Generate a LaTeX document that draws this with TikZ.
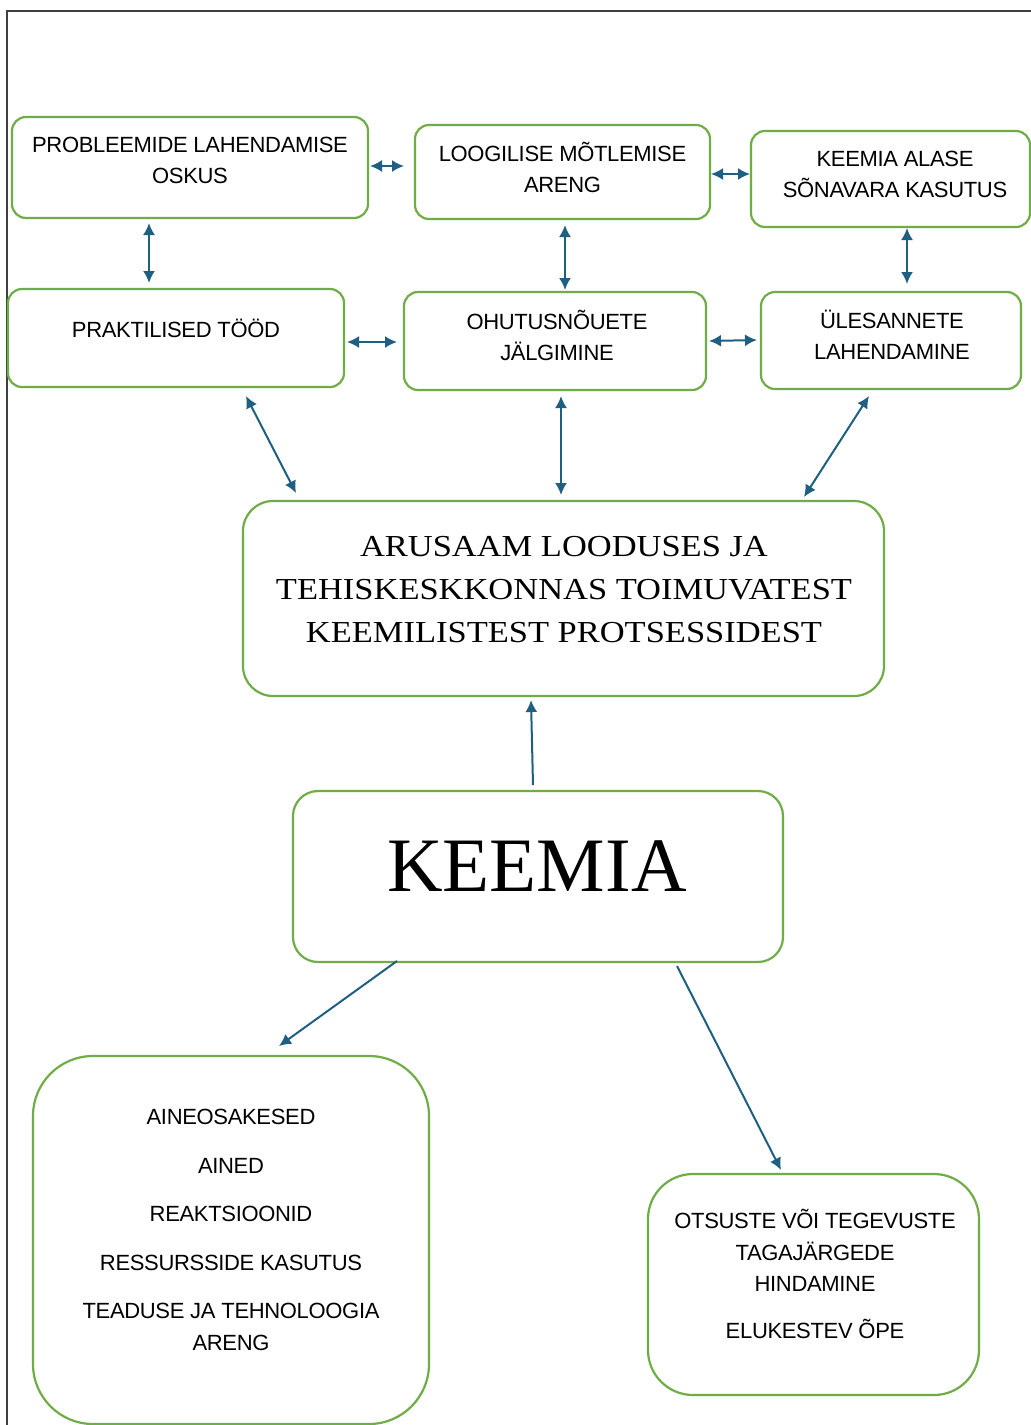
\documentclass[tikz,border=0pt]{standalone}
\usepackage{fontspec}
\setmainfont[LetterSpace=-1.5]{Liberation Sans}
\newfontfamily\serifx{Liberation Serif}
\newfontfamily\serifwide[FakeStretch=1.13]{Liberation Serif}
\usetikzlibrary{arrows.meta,calc}
\definecolor{boxgreen}{HTML}{70AD47}
\definecolor{arrblue}{HTML}{1F5F82}
\definecolor{framegray}{HTML}{404040}
\tikzset{
  box/.style={draw=boxgreen, line width=2.2pt, rounded corners=14pt, inner sep=0pt, outer sep=0pt},
  txt/.style={font=\fontsize{22}{31}\selectfont, align=center, inner sep=0pt},
  dbl/.style={{Latex[length=12pt,width=12pt]}-{Latex[length=12pt,width=12pt]}, draw=arrblue, line width=2pt},
  sgl/.style={-{Latex[length=12pt,width=12pt]}, draw=arrblue, line width=2pt}
}
\begin{document}
\begin{tikzpicture}[x=1pt,y=-1pt]
\useasboundingbox (0,0) rectangle (1031,1425);
\fill[white] (0,0) rectangle (1031,1425);
\draw[framegray, line width=2pt] (1031,11) -- (7,11) -- (7,1425);

% boxes
\node[box, minimum width=356pt, minimum height=101pt] (b1) at (190,167.5) {};
\node[box, minimum width=295pt, minimum height=94pt] (b2) at (562.5,172) {};
\node[box, minimum width=279pt, minimum height=96pt] (b3) at (890.5,179) {};
\node[box, minimum width=336pt, minimum height=98pt] (b4) at (176,338) {};
\node[box, minimum width=302pt, minimum height=98pt] (b5) at (555,341) {};
\node[box, minimum width=260pt, minimum height=97pt] (b6) at (891,340.5) {};
\node[box, rounded corners=30pt, minimum width=641pt, minimum height=195pt] (b7) at (563.5,598.5) {};
\node[box, rounded corners=25pt, minimum width=490pt, minimum height=171pt] (b8) at (538,876.5) {};
\node[box, rounded corners=60pt, minimum width=396pt, minimum height=368pt] (b9) at (231,1240) {};
\node[box, rounded corners=45pt, minimum width=331pt, minimum height=221pt] (b10) at (813.5,1284.5) {};

% texts
\node[txt] (t1) at (190,160.5) {PROBLEEMIDE LAHENDAMISE\\OSKUS};
\node[txt] (t2) at (562.5,167.5) {LOOGILISE MÕTLEMISE\\ARENG};
\node[txt] (t3) at (895,174.5) {KEEMIA ALASE\\SÕNAVARA KASUTUS};
\node[txt] (t4) at (176,328) {PRAKTILISED TÖÖD};
\node[txt] (t5) at (557,335) {OHUTUSNÕUETE\\JÄLGIMINE};
\node[txt] (t6) at (892,335) {ÜLESANNETE\\LAHENDAMINE};
\node[align=center, inner sep=0pt, font=\serifwide\fontsize{30.5}{43}\selectfont] (t7) at (564,590)
  {ARUSAAM LOODUSES JA\\TEHISKESKKONNAS TOIMUVATEST\\KEEMILISTEST PROTSESSIDEST};
\node[inner sep=0pt, font=\serifx\fontsize{77}{80}\selectfont] (t8) at (537,866) {KEEMIA};
\node[txt, font=\fontsize{22}{32}\selectfont] (t9) at (231,1230)
  {AINEOSAKESED\\[16.5pt]AINED\\[16.5pt]REAKTSIOONID\\[16.5pt]RESSURSSIDE KASUTUS\\[16.5pt]TEADUSE JA TEHNOLOOGIA\\ARENG};
\node[txt, font=\fontsize{22}{31.5}\selectfont] (t10) at (815,1274)
  {OTSUSTE VÕI TEGEVUSTE\\TAGAJÄRGEDE\\HINDAMINE\\[15.5pt]ELUKESTEV ÕPE};

% connectors
\draw[dbl] ($(b1.east)+(2,-1.5)$) -- ($(b2.west)+(-11,-6)$);
\draw[dbl] ($(b2.east)+(1,2)$) -- ($(b3.west)+(-1,-5)$);
\draw[dbl] ($(b1.south)+(-41,5)$) -- ($(b4.north)+(-27,-6)$);
\draw[dbl] ($(b2.south)+(2.5,6)$) -- ($(b5.north)+(10,-2)$);
\draw[dbl] ($(b3.south)+(16.5,1)$) -- ($(b6.north)+(16,-8)$);
\draw[dbl] ($(b4.east)+(3,4)$) -- ($(b5.west)+(-7,1)$);
\draw[dbl] ($(b5.east)+(3,0)$) -- ($(b6.west)+(-4,-0.5)$);
\draw[dbl] ($(b4.south)+(70,9)$) -- ($(b7.north)+(-267.5,-8)$);
\draw[dbl] ($(b5.south)+(6,6)$) -- ($(b7.north)+(-2.5,-6)$);
\draw[dbl] ($(b6.south)+(-22,7)$) -- ($(b7.north)+(240.5,-4)$);
\draw[sgl] ($(b8.north)+(-5,-6)$) -- ($(b7.south)+(-32.5,4)$);
\draw[sgl] ($(b8.south)+(-141,-1)$) -- ($(b9.north)+(48,-10)$);
\draw[sgl] ($(b8.south)+(139,4)$) -- ($(b10.north)+(-32.5,-4)$);
\end{tikzpicture}
\end{document}
